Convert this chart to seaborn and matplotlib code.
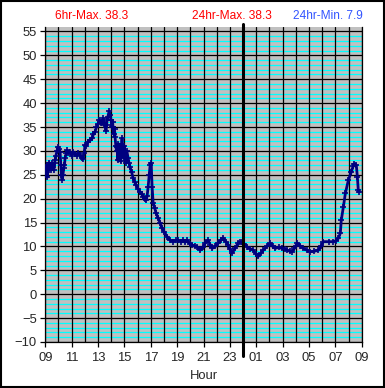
import pandas as pd
import seaborn as sns
from matplotlib import pyplot as plt
from matplotlib.patches import Rectangle

# hours after 09:00 and temperature readings
hours = [0.0, 0.05, 0.1, 0.15, 0.2, 0.25, 0.3, 0.36, 0.42, 0.5, 0.58, 0.65, 0.7, 0.74,
         0.8, 0.89, 0.95, 1.04, 1.12, 1.18, 1.22, 1.27, 1.34, 1.4, 1.45, 1.5, 1.58, 1.65,
         1.75, 1.88, 2.0, 2.1, 2.26, 2.4, 2.5, 2.63, 2.75, 2.86, 2.95, 3.01, 3.1, 3.24,
         3.4, 3.55, 3.65, 3.77, 3.88, 4.0, 4.1, 4.2, 4.31, 4.4, 4.45, 4.53, 4.6, 4.65,
         4.69, 4.75, 4.84, 4.9, 4.99, 5.05, 5.1, 5.14, 5.2, 5.25, 5.29, 5.35, 5.4, 5.45,
         5.5, 5.55, 5.6, 5.67, 5.72, 5.77, 5.82, 5.88, 5.95, 6.0, 6.05, 6.12, 6.18, 6.28,
         6.35, 6.43, 6.55, 6.66, 6.78, 6.89, 7.05, 7.19, 7.3, 7.42, 7.55, 7.65, 7.72, 7.8,
         7.88, 7.95, 8.03, 8.1, 8.18, 8.3, 8.4, 8.55, 8.71, 8.85, 9.01, 9.25, 9.47, 9.7,
         9.9, 10.08, 10.3, 10.46, 10.6, 10.76, 10.95, 11.14, 11.35, 11.53, 11.75, 11.95,
         12.15, 12.35, 12.5, 12.66, 12.9, 13.11, 13.3, 13.49, 13.7, 13.87, 14.0, 14.17,
         14.4, 14.63, 14.8, 14.93, 15.1, 15.31, 15.55, 15.77, 15.95, 16.15, 16.35, 16.53,
         16.8, 17.06, 17.25, 17.44, 17.7, 17.97, 18.15, 18.35, 18.55, 18.73, 18.9, 19.11,
         19.35, 19.57, 19.85, 20.1, 20.4, 20.71, 20.9, 21.09, 21.5, 21.85, 22.05, 22.23,
         22.38, 22.45, 22.61, 22.76, 22.99, 23.21, 23.35, 23.44, 23.59, 23.67, 23.74, 23.82]
temps = [26.0, 25.0, 27.0, 24.5, 26.5, 26.0, 27.5, 27.0, 26.0, 27.5, 26.6, 26.0, 27.5, 28.0,
         29.0, 30.0, 30.8, 30.5, 29.8, 27.0, 25.0, 24.0, 25.0, 26.5, 27.0, 28.5, 29.5, 30.1,
         29.5, 29.8, 29.0, 29.8, 29.4, 29.0, 29.6, 29.1, 28.6, 28.4, 29.5, 31.2, 31.0, 31.9,
         32.2, 32.6, 33.5, 34.0, 35.0, 35.7, 36.5, 35.8, 36.0, 36.8, 35.5, 35.7, 34.2, 35.5,
         36.5, 37.2, 38.3, 37.5, 36.4, 35.0, 36.0, 35.0, 33.5, 34.5, 32.9, 31.0, 30.0, 30.8,
         28.0, 31.5, 29.0, 30.1, 27.8, 31.0, 32.6, 30.0, 28.5, 31.0, 29.5, 27.5, 30.0, 28.5,
         27.5, 26.6, 25.5, 24.3, 23.5, 22.8, 22.0, 21.4, 21.0, 20.4, 20.0, 19.7, 20.5, 22.5,
         25.0, 27.0, 27.4, 22.5, 19.1, 18.0, 17.0, 16.0, 14.9, 13.8, 13.1, 12.0, 11.3, 11.0,
         11.3, 11.3, 11.0, 11.3, 10.9, 11.3, 10.6, 10.3, 10.0, 9.9, 9.2, 9.8,
         10.8, 11.3, 10.4, 9.6, 10.0, 10.7, 11.3, 11.8, 11.0, 10.3, 9.4, 8.6,
         9.6, 10.7, 11.0, 11.0, 10.5, 9.9, 9.5, 9.2, 8.5, 7.9, 8.6, 9.2,
         10.0, 10.7, 10.0, 9.6, 9.8, 9.6, 9.4, 9.2, 9.0, 8.9, 9.6, 10.7,
         10.1, 9.6, 9.2, 8.9, 9.0, 9.2, 10.0, 11.0, 11.0, 11.0, 11.2, 11.7,
         12.8, 15.5, 18.3, 21.1, 23.9, 25.6, 26.8, 27.3, 27.0, 24.6, 21.8, 21.4]

x_ticks = list(range(0, 25, 2))
x_labels = ["%02d" % ((9 + h) % 24) for h in x_ticks]
y_ticks = list(range(-10, 56, 5))

df = pd.DataFrame({"hour": hours, "temp": temps})

sns.set_style("white")
plt.rcParams["font.family"] = ["Liberation Sans", "DejaVu Sans"]

fig = plt.figure(figsize=(3.85, 3.88), dpi=100)
ax = fig.add_axes([0.1177, 0.1186, 0.8218, 0.8126])
ax.set_facecolor("#c0c0c0")

# grid: cyan every degree, black every 5 degrees and every hour
for v in range(-10, 56):
    if v % 5 != 0:
        ax.axhline(v, color="#00ffff", lw=0.9, zorder=0.5)
for v in y_ticks:
    ax.axhline(v, color="black", lw=0.9, zorder=0.6)
for h in range(0, 25):
    ax.axvline(h, color="black", lw=0.9, zorder=0.6)

sns.lineplot(data=df, x="hour", y="temp", ax=ax, color="#000080", lw=2.0,
             marker="+", markersize=4.5, markeredgewidth=1.2, markeredgecolor="#000080",
             sort=False, estimator=None, zorder=3)

# midnight line
ax.axvline(15, ymin=-0.045, ymax=1.01, color="black", lw=2.2, clip_on=False, zorder=4)

ax.set_xlim(0, 24)
ax.set_ylim(-10, 56)
ax.set_xticks(x_ticks)
ax.set_xticklabels(x_labels)
ax.set_yticks(y_ticks)
ax.tick_params(axis="both", direction="out", length=3.5, width=0.9, color="black",
               labelsize=9.4, left=True, bottom=True)
ax.tick_params(axis="x", pad=4)
ax.tick_params(axis="y", pad=2.5)
ax.set_xlabel("Hour", fontsize=9.4, labelpad=4)
ax.set_ylabel("")
for s in ["left", "bottom", "right"]:
    ax.spines[s].set_color("black")
    ax.spines[s].set_linewidth(0.9)
ax.spines["top"].set_visible(False)

fig.text(0.142, 0.960, "6hr-Max. 38.3", color="#ff0000", fontsize=8.6, va="center")
fig.text(0.498, 0.960, "24hr-Max. 38.3", color="#ff0000", fontsize=8.6, va="center")
fig.text(0.761, 0.960, "24hr-Min. 7.9", color="#3355ff", fontsize=8.6, va="center")

fig.patches.append(Rectangle((0.002, 0.002), 0.996, 0.996, transform=fig.transFigure,
                             fill=False, edgecolor="black", lw=1.5))

plt.savefig("out.png", dpi=100)
